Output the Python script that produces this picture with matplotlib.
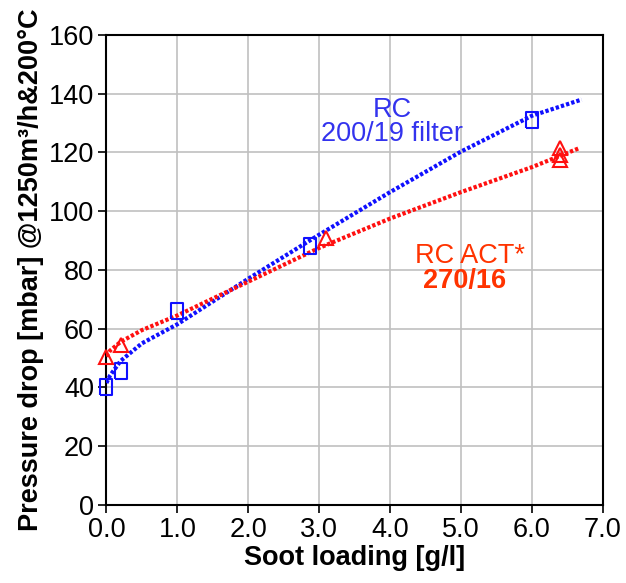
import numpy as np
import matplotlib
matplotlib.use('Agg')
import matplotlib.pyplot as plt

plt.rcParams['font.family'] = ['Liberation Sans', 'DejaVu Sans']

# measured points
x_rc = [0.0, 0.2, 1.0, 2.87, 6.0]
y_rc = [40.0, 45.5, 66.0, 88.0, 131.0]
x_act = [0.0, 0.2, 3.1, 6.4, 6.4, 6.4]
y_act = [50.3, 54.5, 91.0, 121.5, 119.0, 117.5]

# fitted curves
xf_rc = [0.0, 0.05, 0.2, 0.5, 1.0, 2.0, 3.0, 4.0, 5.0, 6.0, 6.7]
yf_rc = [41.5, 44.0, 49.0, 55.0, 61.5, 77.0, 92.0, 106.5, 120.3, 132.5, 138.0]
xf_act = [0.0, 0.05, 0.2, 0.5, 1.0, 2.0, 3.0, 4.0, 5.0, 6.0, 6.67]
yf_act = [50.5, 52.5, 55.5, 59.5, 64.5, 76.0, 87.5, 97.5, 106.5, 115.0, 121.5]

xticks = np.arange(0, 7.01, 1.0)
yticks = np.arange(0, 161, 20)

fig = plt.figure(figsize=(6.26, 5.83), dpi=100)
ax = fig.add_axes([0.170, 0.134, 0.793, 0.806])

# slightly tall rectangle marker like the original
rect = [(-0.75, -1), (0.75, -1), (0.75, 1), (-0.75, 1), (-0.75, -1)]

ax.plot(xf_rc, yf_rc, color='#1010ff', ls=(0, (0.8, 0.5)), lw=3, zorder=3)
ax.plot(xf_act, yf_act, color='#ff1010', ls=(0, (0.8, 0.5)), lw=3, zorder=3)
ax.plot(x_rc, y_rc, marker=rect, ls='none', mfc='none', mec='#1010ff', mew=1.5, ms=12,
        zorder=4, clip_on=False)
ax.plot(x_act, y_act, '^', mfc='none', mec='#ff1010', mew=1.5, ms=10, zorder=4, clip_on=False)

fs = 19.5
ax.text(4.03, 130.2, 'RC\n200/19 filter', color='#3333ee', fontsize=fs,
        ha='center', va='center', multialignment='center', linespacing=0.9)
ax.text(5.12, 84.6, 'RC ACT*', color='#ff3300', fontsize=fs, ha='center', va='center')
ax.text(5.05, 76.4, '270/16', color='#ff3300', fontsize=fs, fontweight='bold', ha='center', va='center')

ax.set_xlim(0, 7)
ax.set_ylim(0, 160)
ax.set_xticks(xticks)
ax.set_xticklabels(['%.1f' % v for v in xticks])
ax.set_yticks(yticks)
ax.grid(True, color='#c0c0c0', lw=1.2)
ax.set_axisbelow(True)
ax.tick_params(labelsize=fs, direction='out', length=6, width=1.2, color='black', pad=3)
for s in ax.spines.values():
    s.set_linewidth(1.5)
    s.set_color('black')

ax.set_xlabel('Soot loading [g/l]', fontsize=fs, fontweight='bold', labelpad=1)
ax.set_ylabel('Pressure drop [mbar] @1250m³/h&200°C', fontsize=fs, fontweight='bold', labelpad=3)

fig.savefig('out.png', dpi=100)
